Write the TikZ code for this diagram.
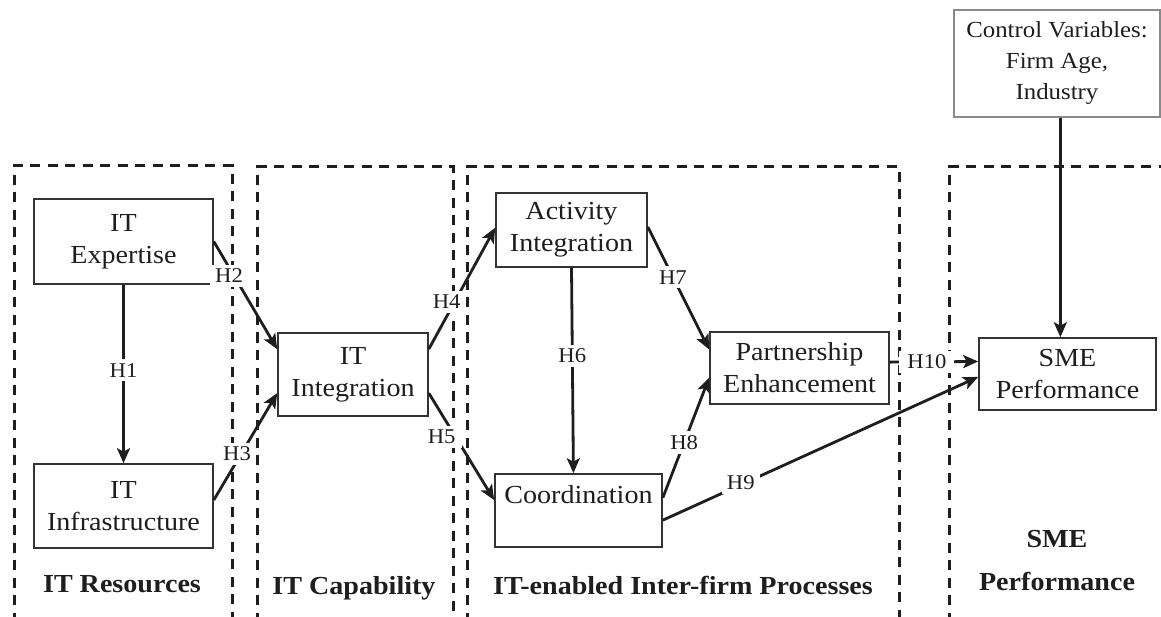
\documentclass[tikz,border=0pt]{standalone}
\usepackage{fontspec}
\setmainfont{Liberation Serif}[FakeStretch=1.08]
\usetikzlibrary{arrows.meta,calc}
\definecolor{ink}{HTML}{1E1E1E}
\definecolor{boxc}{HTML}{333333}
\definecolor{ctrlc}{HTML}{8A8A8A}
\begin{document}
\begin{tikzpicture}[x=1pt,y=-1pt,
  every node/.style={text=ink},
  var/.style={draw=boxc, line width=1.6pt, fill=white, align=center, inner sep=0pt, font=\fontsize{26}{32}\selectfont},
  region/.style={draw=ink, line width=3pt, dash pattern=on 10pt off 7.5pt},
  arr/.style={draw=ink, line width=2.8pt, -{Stealth[length=15pt,width=13pt,inset=3.5pt]}},
  hyp/.style={fill=white, inner xsep=5pt, inner ysep=4pt, font=\fontsize{21}{24}\selectfont},
  regtitle/.style={font=\fontsize{26}{43}\selectfont\bfseries, align=center}
]
\useasboundingbox (0,0) rectangle (1161,617);
\clip (0,0) rectangle (1161,617);
% regions
\draw[region] (14,640) -- (14,166) -- (232,166) -- (232,640);
\draw[region] (257,640) -- (257,167) -- (453,167) -- (453,640);
\draw[region] (467,640) -- (467,167) -- (899,167) -- (899,640);
\draw[region] (949,640) -- (949,167) -- (1180,167);
% variables
\node[var, minimum width=179pt, minimum height=85pt] (exp) at (123.5,241.5) {IT\\Expertise};
\node[var, minimum width=179pt, minimum height=84pt] (inf) at (123.5,506) {IT\\Infrastructure};
\node[var, minimum width=150pt, minimum height=83pt] (itint) at (353,374.5) {IT\\Integration};
\node[var, minimum width=151pt, minimum height=74pt] (act) at (571.5,230) {Activity\\Integration};
\node[var, minimum width=167pt, minimum height=73pt] (coord) at (578.5,510.5) {Coordination\\\mbox{}};
\node[var, minimum width=179pt, minimum height=72pt] (part) at (799.5,368) {Partnership\\Enhancement};
\node[var, minimum width=177pt, minimum height=72pt] (sme) at (1067.5,374) {SME\\Performance};
\node[var, draw=ctrlc, line width=1.2pt, font=\fontsize{23}{31}\selectfont, minimum width=206pt, minimum height=107pt] (ctrl) at (1057,63.5) {Control Variables:\\Firm Age,\\Industry};
% region titles
\node[regtitle] (t1) at (122,584) {IT Resources};
\node[regtitle] (t2) at (354,588) {IT Capability};
\node[regtitle] (t3) at (683,585) {IT-enabled Inter-firm Processes};
\node[regtitle] (t4) at (1057,561) {SME\\Performance};
% connectors
\draw[arr] (exp.south) -- node[hyp, pos=0.48] {H1} (inf.north);
\draw[arr] (exp.east) -- node[hyp, pos=0.32, xshift=-5pt] {H2} ($(itint.north west)!0.2!(itint.south west)$);
\draw[arr] ($(inf.north east)!0.43!(inf.south east)$) -- node[hyp, pos=0.43, xshift=-4pt] {H3} ($(itint.north west)!0.72!(itint.south west)$);
\draw[arr] ($(itint.north east)!0.2!(itint.south east)$) -- node[hyp, pos=0.39, xshift=-8pt] {H4} ($(act.north west)!0.47!(act.south west)$);
\draw[arr] ($(itint.north east)!0.72!(itint.south east)$) -- node[hyp, pos=0.41, xshift=-14pt, inner xsep=7pt] {H5} ($(coord.north west)!0.36!(coord.south west)$);
\draw[arr] (act.south) -- node[hyp, pos=0.43] {H6} ($(coord.north west)!0.47!(coord.north east)$);
\draw[arr] ($(act.north east)!0.46!(act.south east)$) -- node[hyp, pos=0.41] {H7} ($(part.north west)!0.25!(part.south west)$);
\draw[arr] ($(coord.north east)!0.33!(coord.south east)$) -- node[hyp, pos=0.46] {H8} ($(part.north west)!0.63!(part.south west)$);
\draw[arr] ($(coord.north east)!0.63!(coord.south east)$) -- node[hyp, pos=0.26, xshift=-4pt] {H9} ($(sme.north west)!0.54!(sme.south west)$);
\draw[arr] ($(part.north east)!0.42!(part.south east)$) -- node[hyp, pos=0.42, inner xsep=8pt] {H10} ($(sme.north west)!0.33!(sme.south west)$);
\coordinate (smetop) at ($(sme.north west)!0.46!(sme.north east)$);
\draw[arr] (smetop |- ctrl.south) -- (smetop);
\end{tikzpicture}
\end{document}
